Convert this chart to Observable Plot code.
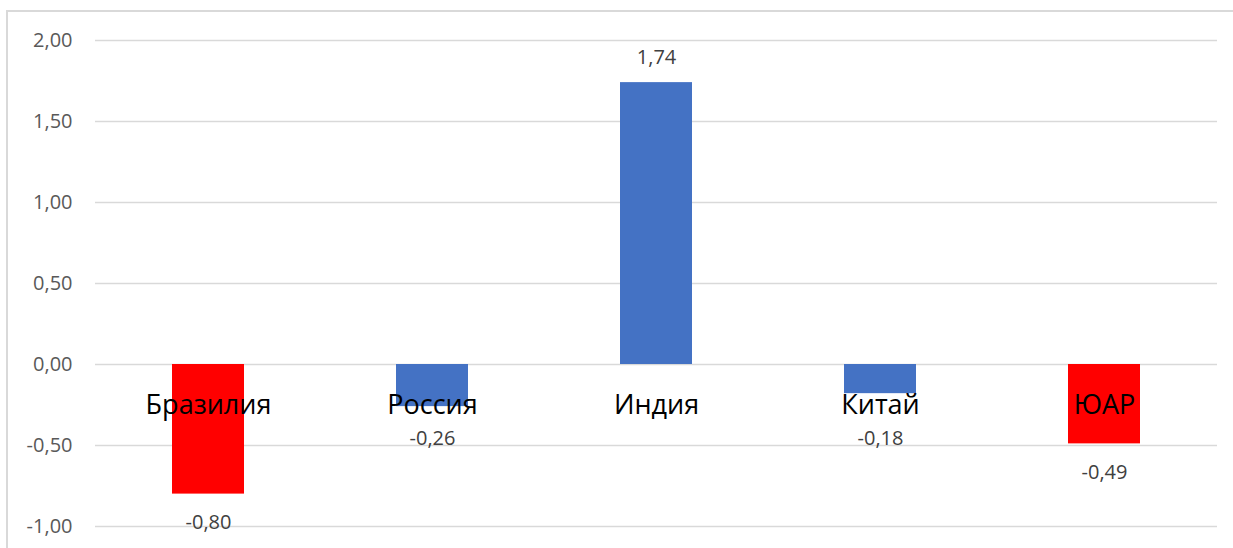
<!DOCTYPE html>
<html>
<head>
<meta charset="utf-8">
<script src="https://cdn.jsdelivr.net/npm/d3@7"></script>
<script src="https://cdn.jsdelivr.net/npm/@observablehq/plot@0.6"></script>
<style>
  html, body { margin: 0; padding: 0; background: #fff; }
  #wrap { position: relative; width: 1233px; height: 548px; overflow: hidden; }
  #border { position: absolute; left: 6px; top: 10px; width: 1260px; height: 600px; border: 2px solid #d9d9d9; box-sizing: border-box; }
  #chart { position: absolute; left: 0; top: 0; }
</style>
</head>
<body>
<div id="wrap"><div id="border"></div><div id="chart"></div></div>
<script>
const countries = ["Бразилия", "Россия", "Индия", "Китай", "ЮАР"];
const values = [-0.80, -0.26, 1.74, -0.18, -0.49];
const barColors = ["#FF0000", "#4472C4", "#4472C4", "#4472C4", "#FF0000"];
const yTicks = [-1, -0.5, 0, 0.5, 1, 1.5, 2];

const data = countries.map((c, i) => ({country: c, value: values[i], color: barColors[i]}));
const fmt = v => v.toFixed(2).replace(".", ",");

const chart = Plot.plot({
  width: 1233,
  height: 548,
  marginLeft: 95,
  marginRight: 16,
  marginTop: 40,
  marginBottom: 22,
  style: {fontFamily: "'Open Sans', sans-serif", background: "transparent"},
  x: {domain: countries, paddingInner: 0.68, paddingOuter: 0.34, axis: null},
  y: {domain: [-1, 2], ticks: yTicks, tickFormat: fmt, tickSize: 0, tickPadding: 23, label: null},
  marks: [
    Plot.ruleY(yTicks, {stroke: "#d9d9d9", strokeWidth: 1.5}),
    Plot.barY(data, {x: "country", y: "value", fill: d => d.color}),
    Plot.text(data, {
      x: "country",
      y: d => d.value < 0 ? Math.min(d.value - 0.175, -0.46) : d.value + 0.155,
      text: d => fmt(d.value),
      fill: "#404040",
      fontSize: 20
    }),
    Plot.text(data, {x: "country", y: 0, text: "country", dy: 41, fill: "#000", fontSize: 27})
  ]
});
const yAxis = chart.querySelector("[aria-label='y-axis tick label']");
if (yAxis) { yAxis.setAttribute("font-size", "20"); yAxis.setAttribute("fill", "#595959"); }
document.getElementById("chart").appendChild(chart);
</script>
</body>
</html>
